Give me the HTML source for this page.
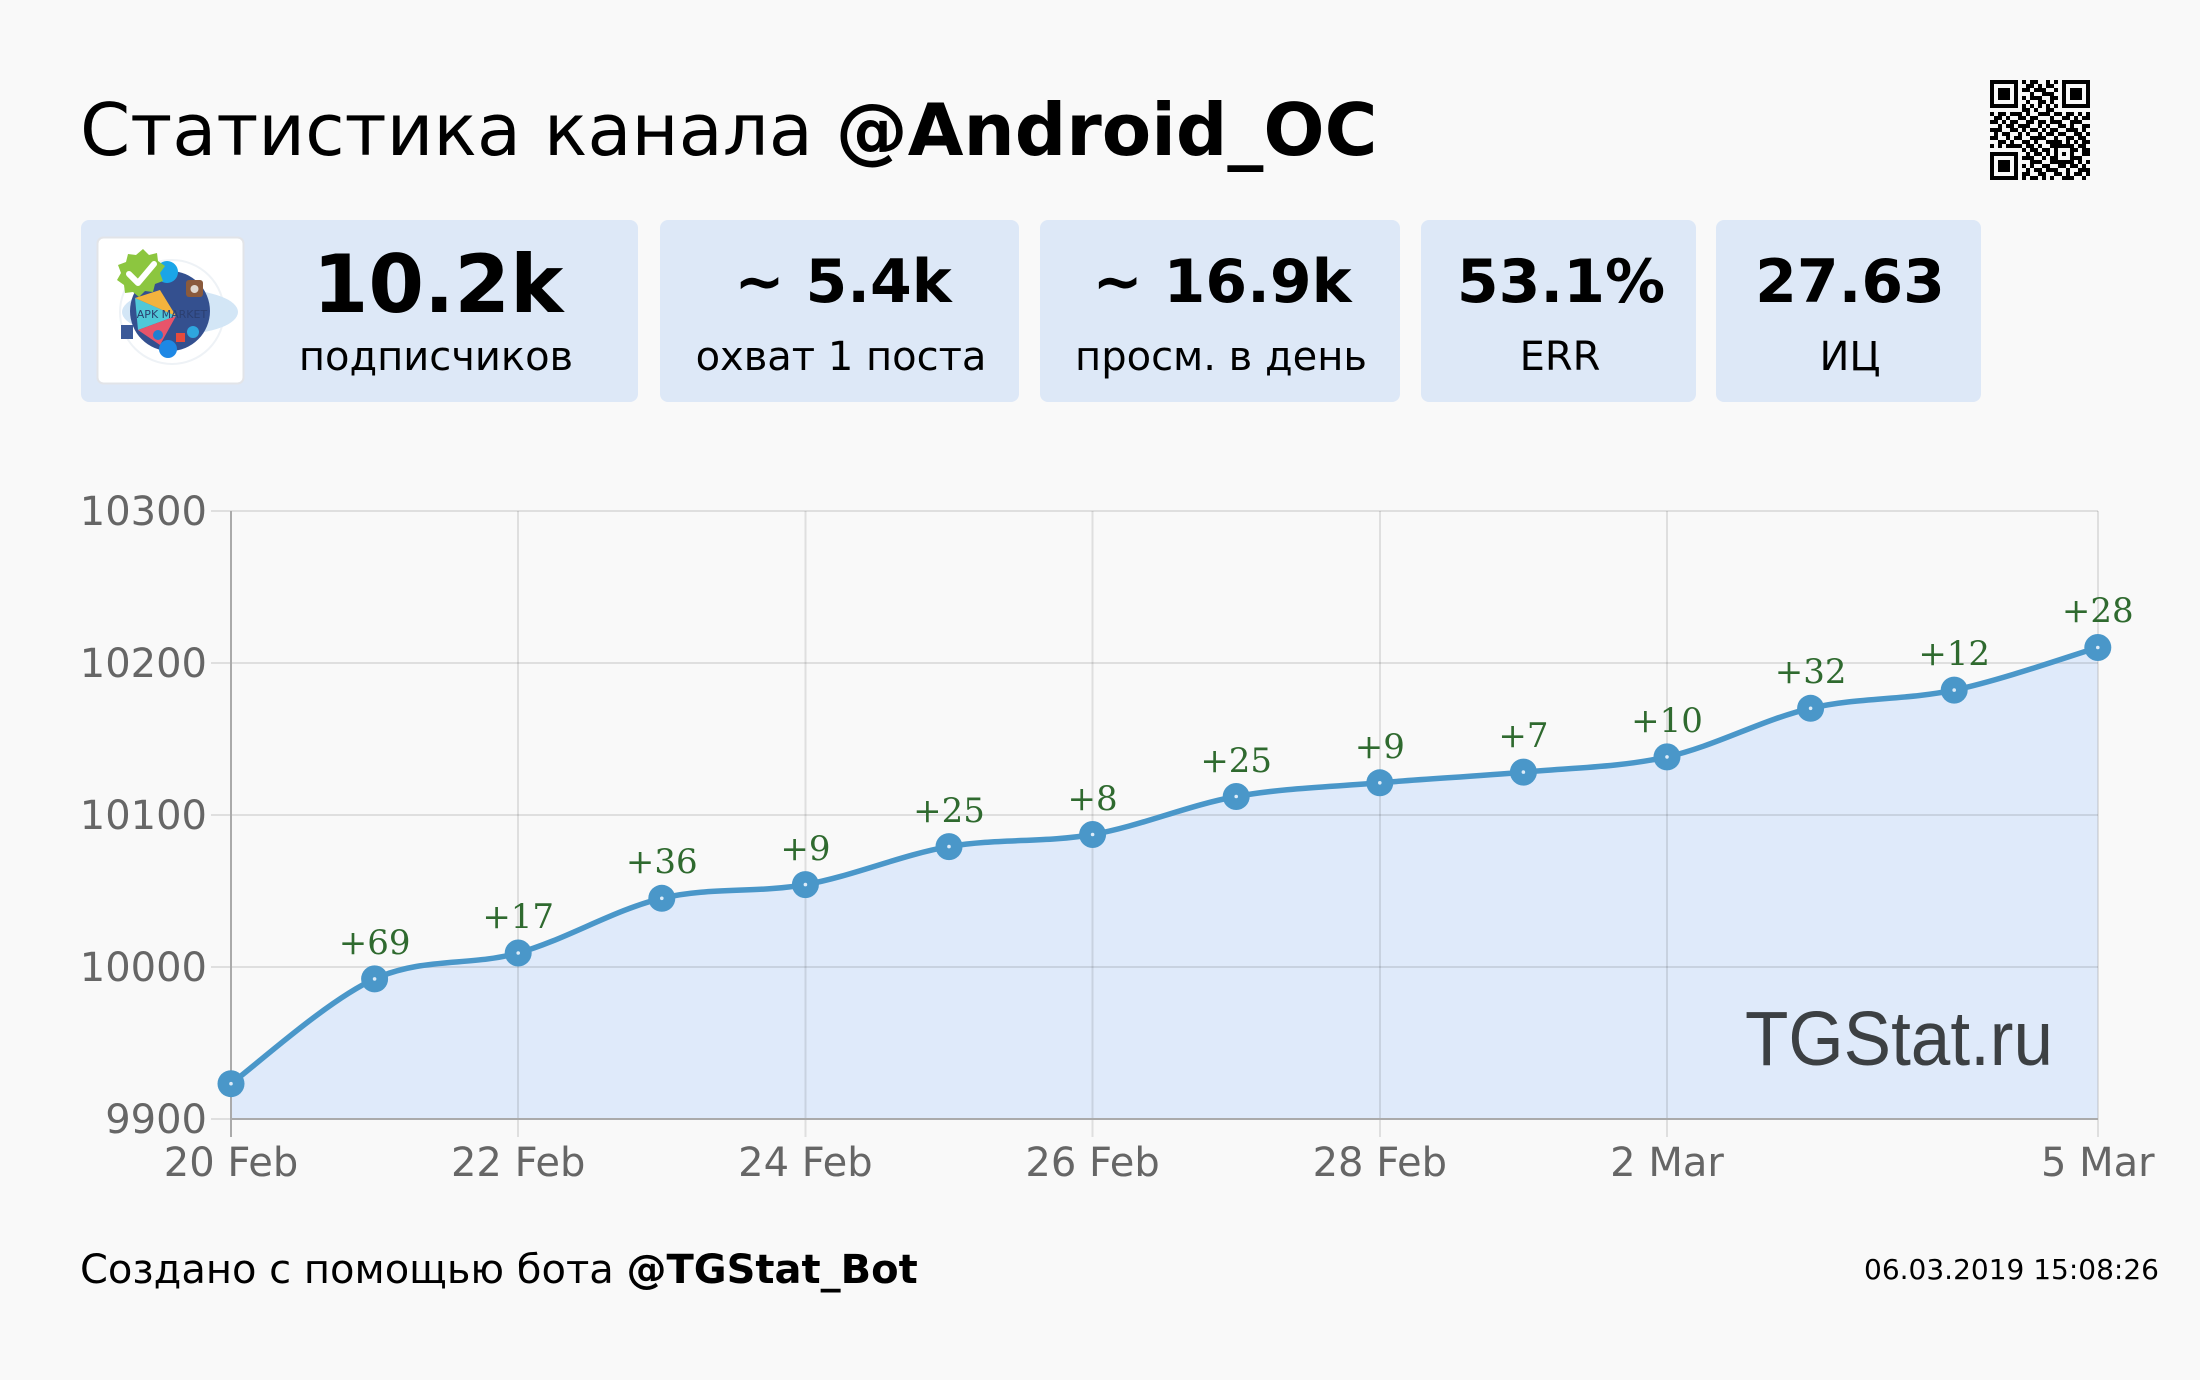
<!DOCTYPE html>
<html>
<head>
<meta charset="utf-8">
<style>
html,body{margin:0;padding:0;background:#f9f9f9;}
svg{display:block;}
</style>
</head>
<body>
<svg width="2200" height="1380" viewBox="0 0 2200 1380" xmlns="http://www.w3.org/2000/svg">
<rect x="0" y="0" width="2200" height="1380" fill="#f9f9f9"/>

<!-- Title -->
<text x="80" y="155" font-family="DejaVu Sans, Liberation Sans, sans-serif" font-size="72" fill="#000">Статистика канала <tspan font-weight="bold">@Android_OC</tspan></text>

<!-- QR code -->
<g transform="translate(1990,80) scale(4)" fill="#000" shape-rendering="crispEdges">
<rect x="0" y="0" width="7" height="1"/><rect x="8" y="0" width="1" height="1"/><rect x="10" y="0" width="2" height="1"/><rect x="14" y="0" width="1" height="1"/><rect x="16" y="0" width="1" height="1"/><rect x="18" y="0" width="7" height="1"/>
<rect x="0" y="1" width="1" height="1"/><rect x="6" y="1" width="1" height="1"/><rect x="9" y="1" width="2" height="1"/><rect x="12" y="1" width="1" height="1"/><rect x="14" y="1" width="2" height="1"/><rect x="18" y="1" width="1" height="1"/><rect x="24" y="1" width="1" height="1"/>
<rect x="0" y="2" width="1" height="1"/><rect x="2" y="2" width="3" height="1"/><rect x="6" y="2" width="1" height="1"/><rect x="8" y="2" width="2" height="1"/><rect x="11" y="2" width="3" height="1"/><rect x="16" y="2" width="1" height="1"/><rect x="18" y="2" width="1" height="1"/><rect x="20" y="2" width="3" height="1"/><rect x="24" y="2" width="1" height="1"/>
<rect x="0" y="3" width="1" height="1"/><rect x="2" y="3" width="3" height="1"/><rect x="6" y="3" width="1" height="1"/><rect x="10" y="3" width="1" height="1"/><rect x="13" y="3" width="3" height="1"/><rect x="18" y="3" width="1" height="1"/><rect x="20" y="3" width="3" height="1"/><rect x="24" y="3" width="1" height="1"/>
<rect x="0" y="4" width="1" height="1"/><rect x="2" y="4" width="3" height="1"/><rect x="6" y="4" width="1" height="1"/><rect x="8" y="4" width="1" height="1"/><rect x="10" y="4" width="3" height="1"/><rect x="15" y="4" width="2" height="1"/><rect x="18" y="4" width="1" height="1"/><rect x="20" y="4" width="3" height="1"/><rect x="24" y="4" width="1" height="1"/>
<rect x="0" y="5" width="1" height="1"/><rect x="6" y="5" width="1" height="1"/><rect x="9" y="5" width="1" height="1"/><rect x="12" y="5" width="2" height="1"/><rect x="15" y="5" width="1" height="1"/><rect x="18" y="5" width="1" height="1"/><rect x="24" y="5" width="1" height="1"/>
<rect x="0" y="6" width="7" height="1"/><rect x="8" y="6" width="1" height="1"/><rect x="10" y="6" width="1" height="1"/><rect x="12" y="6" width="1" height="1"/><rect x="14" y="6" width="1" height="1"/><rect x="16" y="6" width="1" height="1"/><rect x="18" y="6" width="7" height="1"/>
<rect x="8" y="7" width="2" height="1"/><rect x="11" y="7" width="1" height="1"/><rect x="14" y="7" width="2" height="1"/>
<rect x="0" y="8" width="1" height="1"/><rect x="2" y="8" width="2" height="1"/><rect x="5" y="8" width="3" height="1"/><rect x="9" y="8" width="1" height="1"/><rect x="12" y="8" width="3" height="1"/><rect x="16" y="8" width="2" height="1"/><rect x="19" y="8" width="2" height="1"/><rect x="22" y="8" width="1" height="1"/><rect x="24" y="8" width="1" height="1"/>
<rect x="1" y="9" width="2" height="1"/><rect x="4" y="9" width="1" height="1"/><rect x="7" y="9" width="2" height="1"/><rect x="10" y="9" width="2" height="1"/><rect x="15" y="9" width="1" height="1"/><rect x="18" y="9" width="2" height="1"/><rect x="21" y="9" width="1" height="1"/><rect x="23" y="9" width="2" height="1"/>
<rect x="0" y="10" width="2" height="1"/><rect x="3" y="10" width="1" height="1"/><rect x="5" y="10" width="2" height="1"/><rect x="9" y="10" width="2" height="1"/><rect x="12" y="10" width="2" height="1"/><rect x="15" y="10" width="3" height="1"/><rect x="20" y="10" width="3" height="1"/>
<rect x="2" y="11" width="1" height="1"/><rect x="4" y="11" width="2" height="1"/><rect x="7" y="11" width="3" height="1"/><rect x="12" y="11" width="1" height="1"/><rect x="14" y="11" width="1" height="1"/><rect x="17" y="11" width="2" height="1"/><rect x="20" y="11" width="1" height="1"/><rect x="23" y="11" width="2" height="1"/>
<rect x="0" y="12" width="3" height="1"/><rect x="5" y="12" width="2" height="1"/><rect x="8" y="12" width="1" height="1"/><rect x="10" y="12" width="2" height="1"/><rect x="13" y="12" width="1" height="1"/><rect x="15" y="12" width="2" height="1"/><rect x="19" y="12" width="3" height="1"/><rect x="23" y="12" width="1" height="1"/>
<rect x="1" y="13" width="1" height="1"/><rect x="3" y="13" width="2" height="1"/><rect x="7" y="13" width="1" height="1"/><rect x="9" y="13" width="1" height="1"/><rect x="12" y="13" width="1" height="1"/><rect x="14" y="13" width="2" height="1"/><rect x="17" y="13" width="2" height="1"/><rect x="21" y="13" width="2" height="1"/><rect x="24" y="13" width="1" height="1"/>
<rect x="0" y="14" width="2" height="1"/><rect x="4" y="14" width="1" height="1"/><rect x="6" y="14" width="2" height="1"/><rect x="10" y="14" width="4" height="1"/><rect x="16" y="14" width="1" height="1"/><rect x="19" y="14" width="2" height="1"/><rect x="22" y="14" width="2" height="1"/>
<rect x="2" y="15" width="2" height="1"/><rect x="5" y="15" width="1" height="1"/><rect x="8" y="15" width="2" height="1"/><rect x="11" y="15" width="1" height="1"/><rect x="14" y="15" width="4" height="1"/><rect x="19" y="15" width="1" height="1"/><rect x="21" y="15" width="1" height="1"/><rect x="23" y="15" width="2" height="1"/>
<rect x="0" y="16" width="1" height="1"/><rect x="2" y="16" width="1" height="1"/><rect x="4" y="16" width="4" height="1"/><rect x="9" y="16" width="2" height="1"/><rect x="12" y="16" width="1" height="1"/><rect x="15" y="16" width="6" height="1"/><rect x="22" y="16" width="2" height="1"/>
<rect x="8" y="17" width="1" height="1"/><rect x="10" y="17" width="2" height="1"/><rect x="13" y="17" width="2" height="1"/><rect x="16" y="17" width="1" height="1"/><rect x="20" y="17" width="2" height="1"/><rect x="23" y="17" width="2" height="1"/>
<rect x="0" y="18" width="7" height="1"/><rect x="9" y="18" width="1" height="1"/><rect x="11" y="18" width="2" height="1"/><rect x="14" y="18" width="1" height="1"/><rect x="16" y="18" width="1" height="1"/><rect x="18" y="18" width="1" height="1"/><rect x="20" y="18" width="1" height="1"/><rect x="23" y="18" width="2" height="1"/>
<rect x="0" y="19" width="1" height="1"/><rect x="6" y="19" width="1" height="1"/><rect x="8" y="19" width="3" height="1"/><rect x="13" y="19" width="1" height="1"/><rect x="15" y="19" width="2" height="1"/><rect x="20" y="19" width="3" height="1"/>
<rect x="0" y="20" width="1" height="1"/><rect x="2" y="20" width="3" height="1"/><rect x="6" y="20" width="1" height="1"/><rect x="10" y="20" width="3" height="1"/><rect x="15" y="20" width="6" height="1"/><rect x="22" y="20" width="1" height="1"/><rect x="24" y="20" width="1" height="1"/>
<rect x="0" y="21" width="1" height="1"/><rect x="2" y="21" width="3" height="1"/><rect x="6" y="21" width="1" height="1"/><rect x="8" y="21" width="1" height="1"/><rect x="10" y="21" width="1" height="1"/><rect x="13" y="21" width="2" height="1"/><rect x="17" y="21" width="2" height="1"/><rect x="20" y="21" width="2" height="1"/><rect x="23" y="21" width="1" height="1"/>
<rect x="0" y="22" width="1" height="1"/><rect x="2" y="22" width="3" height="1"/><rect x="6" y="22" width="1" height="1"/><rect x="9" y="22" width="1" height="1"/><rect x="11" y="22" width="2" height="1"/><rect x="14" y="22" width="3" height="1"/><rect x="19" y="22" width="1" height="1"/><rect x="22" y="22" width="3" height="1"/>
<rect x="0" y="23" width="1" height="1"/><rect x="6" y="23" width="1" height="1"/><rect x="8" y="23" width="2" height="1"/><rect x="12" y="23" width="2" height="1"/><rect x="16" y="23" width="2" height="1"/><rect x="19" y="23" width="1" height="1"/><rect x="21" y="23" width="2" height="1"/><rect x="24" y="23" width="1" height="1"/>
<rect x="0" y="24" width="7" height="1"/><rect x="8" y="24" width="1" height="1"/><rect x="10" y="24" width="2" height="1"/><rect x="13" y="24" width="1" height="1"/><rect x="15" y="24" width="1" height="1"/><rect x="18" y="24" width="3" height="1"/><rect x="23" y="24" width="1" height="1"/>
</g>

<!-- Cards -->
<g fill="#dde8f7">
<rect x="81" y="220" width="557" height="182" rx="8"/>
<rect x="660" y="220" width="359" height="182" rx="8"/>
<rect x="1040" y="220" width="360" height="182" rx="8"/>
<rect x="1421" y="220" width="275" height="182" rx="8"/>
<rect x="1716" y="220" width="265" height="182" rx="8"/>
</g>

<!-- Avatar -->
<g>
<rect x="97.5" y="237.5" width="146" height="146" rx="6" fill="#ffffff" stroke="#e2e4e8" stroke-width="2"/>
<circle cx="172" cy="312" r="52" fill="none" stroke="#eef2f6" stroke-width="2"/>
<ellipse cx="180" cy="312" rx="58" ry="22" fill="#d3e6f6"/>
<circle cx="170" cy="311" r="40" fill="#34508f"/>
<polygon points="135,298 176,316 138,330" fill="#4fc8d8"/>
<polygon points="138,330 176,316 160,345" fill="#e8546a"/>
<polygon points="135,298 176,316 160,290" fill="#f3b33d"/>
<text x="172" y="318" font-family="DejaVu Sans, sans-serif" font-size="11" fill="#2b3f70" text-anchor="middle">APK MARKET</text>
<circle cx="167" cy="272" r="11" fill="#1aa5e8"/>
<rect x="186" y="280" width="17" height="17" rx="3" fill="#8a5a3c"/>
<circle cx="194.5" cy="289" r="4" fill="#e0d8cf"/>
<rect x="121" y="325" width="12" height="14" fill="#3b5998"/>
<circle cx="193" cy="332" r="6" fill="#2ea6de"/>
<circle cx="158" cy="335" r="5" fill="#1f7fd0"/>
<circle cx="168" cy="349" r="9" fill="#1e88e5"/>
<rect x="176" y="333" width="9" height="9" fill="#e64b3c"/>
<polygon points="143,249 149,255 157,253 158,261 165,266 160,273 163,281 155,284 153,292 145,291 139,297 133,292 125,293 124,285 117,280 121,273 118,265 126,262 128,254 136,255" fill="#8cc63f"/>
<polyline points="129,274 138,283 154,264" fill="none" stroke="#ffffff" stroke-width="6" stroke-linecap="round" stroke-linejoin="round"/>
</g>

<!-- Card texts -->
<g font-family="DejaVu Sans, Liberation Sans, sans-serif" fill="#000" text-anchor="middle">
<text x="438" y="312" font-size="80" font-weight="bold">10.2k</text>
<text x="436" y="370" font-size="40">подписчиков</text>
<text x="843" y="302" font-size="60" font-weight="bold">~ 5.4k</text>
<text x="841" y="370" font-size="40">охват 1 поста</text>
<text x="1222" y="302" font-size="60" font-weight="bold">~ 16.9k</text>
<text x="1221" y="370" font-size="40">просм. в день</text>
<text x="1561" y="302" font-size="60" font-weight="bold">53.1%</text>
<text x="1560" y="370" font-size="40">ERR</text>
<text x="1850" y="302" font-size="60" font-weight="bold">27.63</text>
<text x="1850" y="370" font-size="40">ИЦ</text>
</g>

<!-- Chart fill -->
<path d="M231,1083.7 C254.9,1066.2 326.7,1000.7 374.6,978.9 C422.5,957.1 470.3,966.4 518.2,953.0 C566.1,939.6 613.9,909.7 661.8,898.3 C709.7,886.9 757.5,893.2 805.4,884.6 C853.3,876.0 901.1,854.95 949,846.6 C996.9,838.25 1044.7,842.85 1092.6,834.5 C1140.5,826.15 1188.3,805.1 1236.2,796.5 C1284.1,787.9 1331.9,786.9 1379.8,782.8 C1427.7,778.7 1475.5,776.4 1523.4,772.1 C1571.3,767.8 1619.1,767.5 1667,756.9 C1714.9,746.3 1762.7,719.4 1810.6,708.3 C1858.5,697.2 1906.3,700.2 1954.2,690.1 C2002.1,680.0 2073.9,654.6 2097.8,647.5 L2097.8,1118.7 L231,1118.7 Z" fill="#dfeafa"/>

<!-- Grid -->
<g stroke="rgba(0,0,0,0.1)" stroke-width="2" shape-rendering="crispEdges">
<line x1="211" y1="511" x2="2098" y2="511"/>
<line x1="211" y1="663" x2="2098" y2="663"/>
<line x1="211" y1="815" x2="2098" y2="815"/>
<line x1="211" y1="967" x2="2098" y2="967"/>
<line x1="211" y1="1119" x2="231" y2="1119"/>
<line x1="518.2" y1="511" x2="518.2" y2="1137"/>
<line x1="805.4" y1="511" x2="805.4" y2="1137"/>
<line x1="1092.6" y1="511" x2="1092.6" y2="1137"/>
<line x1="1379.8" y1="511" x2="1379.8" y2="1137"/>
<line x1="1667" y1="511" x2="1667" y2="1137"/>
<line x1="2097.8" y1="511" x2="2097.8" y2="1137"/>
</g>
<g stroke="#aaaaaa" stroke-width="2" shape-rendering="crispEdges">
<line x1="231" y1="511" x2="231" y2="1137"/>
<line x1="231" y1="1119" x2="2098" y2="1119"/>
</g>

<!-- Watermark -->
<text x="1745" y="1065" font-family="Liberation Sans, sans-serif" font-size="77" fill="#3c4043" textLength="308" lengthAdjust="spacingAndGlyphs">TGStat.ru</text>

<!-- Line -->
<path d="M231,1083.7 C254.9,1066.2 326.7,1000.7 374.6,978.9 C422.5,957.1 470.3,966.4 518.2,953.0 C566.1,939.6 613.9,909.7 661.8,898.3 C709.7,886.9 757.5,893.2 805.4,884.6 C853.3,876.0 901.1,854.95 949,846.6 C996.9,838.25 1044.7,842.85 1092.6,834.5 C1140.5,826.15 1188.3,805.1 1236.2,796.5 C1284.1,787.9 1331.9,786.9 1379.8,782.8 C1427.7,778.7 1475.5,776.4 1523.4,772.1 C1571.3,767.8 1619.1,767.5 1667,756.9 C1714.9,746.3 1762.7,719.4 1810.6,708.3 C1858.5,697.2 1906.3,700.2 1954.2,690.1 C2002.1,680.0 2073.9,654.6 2097.8,647.5" fill="none" stroke="#4a97c9" stroke-width="5.5" stroke-linejoin="round" stroke-linecap="round"/>

<!-- Markers -->
<g fill="#4a97c9">
<circle cx="231" cy="1083.7" r="13.5"/>
<circle cx="374.6" cy="978.9" r="13.5"/>
<circle cx="518.2" cy="953.0" r="13.5"/>
<circle cx="661.8" cy="898.3" r="13.5"/>
<circle cx="805.4" cy="884.6" r="13.5"/>
<circle cx="949" cy="846.6" r="13.5"/>
<circle cx="1092.6" cy="834.5" r="13.5"/>
<circle cx="1236.2" cy="796.5" r="13.5"/>
<circle cx="1379.8" cy="782.8" r="13.5"/>
<circle cx="1523.4" cy="772.1" r="13.5"/>
<circle cx="1667" cy="756.9" r="13.5"/>
<circle cx="1810.6" cy="708.3" r="13.5"/>
<circle cx="1954.2" cy="690.1" r="13.5"/>
<circle cx="2097.8" cy="647.5" r="13.5"/>
</g>
<g fill="#dcebf8">
<circle cx="231" cy="1083.7" r="1.8"/>
<circle cx="374.6" cy="978.9" r="1.8"/>
<circle cx="518.2" cy="953.0" r="1.8"/>
<circle cx="661.8" cy="898.3" r="1.8"/>
<circle cx="805.4" cy="884.6" r="1.8"/>
<circle cx="949" cy="846.6" r="1.8"/>
<circle cx="1092.6" cy="834.5" r="1.8"/>
<circle cx="1236.2" cy="796.5" r="1.8"/>
<circle cx="1379.8" cy="782.8" r="1.8"/>
<circle cx="1523.4" cy="772.1" r="1.8"/>
<circle cx="1667" cy="756.9" r="1.8"/>
<circle cx="1810.6" cy="708.3" r="1.8"/>
<circle cx="1954.2" cy="690.1" r="1.8"/>
<circle cx="2097.8" cy="647.5" r="1.8"/>
</g>

<!-- Point labels -->
<g font-family="DejaVu Serif, Liberation Serif, serif" font-size="34" fill="#2f6a2f" text-anchor="middle">
<text x="374.6" y="954">+69</text>
<text x="518.2" y="928">+17</text>
<text x="661.8" y="873">+36</text>
<text x="805.4" y="860">+9</text>
<text x="949" y="822">+25</text>
<text x="1092.6" y="810">+8</text>
<text x="1236.2" y="772">+25</text>
<text x="1379.8" y="758">+9</text>
<text x="1523.4" y="747">+7</text>
<text x="1667" y="732">+10</text>
<text x="1810.6" y="683">+32</text>
<text x="1954.2" y="665">+12</text>
<text x="2097.8" y="622">+28</text>
</g>

<!-- Y axis labels -->
<g font-family="DejaVu Sans, Liberation Sans, sans-serif" font-size="40" fill="#666666" text-anchor="end">
<text x="207" y="525">10300</text>
<text x="207" y="677">10200</text>
<text x="207" y="829">10100</text>
<text x="207" y="981">10000</text>
<text x="207" y="1133">9900</text>
</g>

<!-- X axis labels -->
<g font-family="DejaVu Sans, Liberation Sans, sans-serif" font-size="40" fill="#666666" text-anchor="middle">
<text x="231" y="1176">20 Feb</text>
<text x="518.2" y="1176">22 Feb</text>
<text x="805.4" y="1176">24 Feb</text>
<text x="1092.6" y="1176">26 Feb</text>
<text x="1379.8" y="1176">28 Feb</text>
<text x="1667" y="1176">2 Mar</text>
<text x="2097.8" y="1176">5 Mar</text>
</g>

<!-- Footer -->
<text x="80" y="1283" font-family="DejaVu Sans, Liberation Sans, sans-serif" font-size="40" fill="#000">Создано с помощью бота <tspan font-weight="bold">@TGStat_Bot</tspan></text>
<text x="2159" y="1279" font-family="DejaVu Sans, Liberation Sans, sans-serif" font-size="28" fill="#000" text-anchor="end">06.03.2019 15:08:26</text>
</svg>
</body>
</html>
